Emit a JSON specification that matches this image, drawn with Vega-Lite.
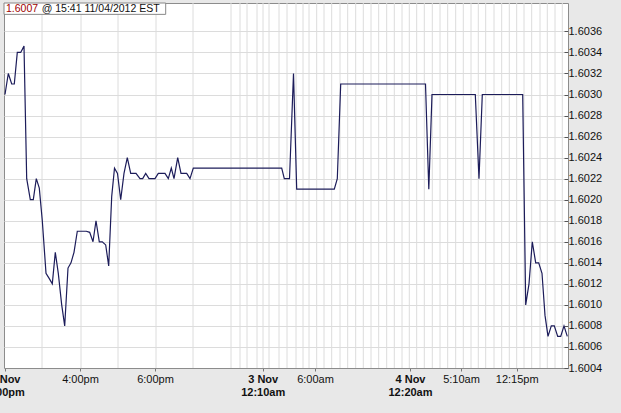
{
  "$schema": "https://vega.github.io/schema/vega-lite/v6.json",
  "width": 564,
  "height": 365,
  "autosize": {"type": "none"},
  "padding": {"left": 4, "top": 3, "right": 53, "bottom": 45},
  "background": "#e8e8e8",
  "config": {
    "view": {"fill": "white", "stroke": "#8c8c8c", "strokeWidth": 1},
    "font": "Liberation Sans"
  },
  "resolve": {"axis": {"x": "independent", "y": "independent"}},
  "datasets": {
    "price": [
      {"pos": 1.0, "v": 1.6030}, {"pos": 4.3, "v": 1.6032}, {"pos": 7.7, "v": 1.6031}, {"pos": 10.3, "v": 1.6031},
      {"pos": 13.3, "v": 1.6034}, {"pos": 16.7, "v": 1.6034}, {"pos": 20.0, "v": 1.60346}, {"pos": 22.7, "v": 1.6022},
      {"pos": 26.3, "v": 1.6020}, {"pos": 29.3, "v": 1.6020}, {"pos": 32.3, "v": 1.6022}, {"pos": 35.3, "v": 1.60211},
      {"pos": 38.3, "v": 1.6018}, {"pos": 42.0, "v": 1.6013}, {"pos": 45.3, "v": 1.60125}, {"pos": 48.3, "v": 1.6012},
      {"pos": 51.3, "v": 1.6015}, {"pos": 54.3, "v": 1.6013}, {"pos": 57.7, "v": 1.6010}, {"pos": 60.7, "v": 1.6008},
      {"pos": 64.0, "v": 1.60135}, {"pos": 67.0, "v": 1.6014}, {"pos": 70.0, "v": 1.6015}, {"pos": 73.3, "v": 1.6017},
      {"pos": 76.3, "v": 1.6017}, {"pos": 82.3, "v": 1.6017}, {"pos": 85.7, "v": 1.60169}, {"pos": 89.0, "v": 1.6016},
      {"pos": 92.0, "v": 1.6018}, {"pos": 95.3, "v": 1.6016}, {"pos": 98.3, "v": 1.6016}, {"pos": 101.7, "v": 1.60157},
      {"pos": 104.7, "v": 1.60137}, {"pos": 107.7, "v": 1.60203}, {"pos": 110.5, "v": 1.6023}, {"pos": 113.5, "v": 1.60225},
      {"pos": 116.7, "v": 1.6020}, {"pos": 120.0, "v": 1.60225}, {"pos": 123.3, "v": 1.6024}, {"pos": 126.7, "v": 1.60225},
      {"pos": 132.0, "v": 1.60225}, {"pos": 136.0, "v": 1.6022}, {"pos": 138.7, "v": 1.6022}, {"pos": 141.7, "v": 1.60225},
      {"pos": 145.0, "v": 1.6022}, {"pos": 151.0, "v": 1.6022}, {"pos": 154.3, "v": 1.60225}, {"pos": 161.0, "v": 1.60225},
      {"pos": 164.3, "v": 1.6022}, {"pos": 167.3, "v": 1.6023}, {"pos": 170.0, "v": 1.6022}, {"pos": 173.7, "v": 1.6024},
      {"pos": 177.0, "v": 1.60225}, {"pos": 182.7, "v": 1.60225}, {"pos": 186.0, "v": 1.6022}, {"pos": 189.3, "v": 1.6023},
      {"pos": 277.7, "v": 1.6023}, {"pos": 280.3, "v": 1.6022}, {"pos": 285.5, "v": 1.6022}, {"pos": 289.5, "v": 1.6032},
      {"pos": 292.7, "v": 1.6021}, {"pos": 330.3, "v": 1.6021}, {"pos": 333.3, "v": 1.6022}, {"pos": 336.7, "v": 1.6031},
      {"pos": 421.5, "v": 1.6031}, {"pos": 424.8, "v": 1.6021}, {"pos": 428.0, "v": 1.6030}, {"pos": 471.3, "v": 1.6030},
      {"pos": 475.0, "v": 1.6022}, {"pos": 478.3, "v": 1.6030}, {"pos": 518.7, "v": 1.6030}, {"pos": 521.7, "v": 1.6010},
      {"pos": 525.0, "v": 1.6012}, {"pos": 528.3, "v": 1.6016}, {"pos": 531.7, "v": 1.6014}, {"pos": 534.7, "v": 1.6014},
      {"pos": 538.0, "v": 1.6013}, {"pos": 541.0, "v": 1.6009}, {"pos": 544.0, "v": 1.6007}, {"pos": 547.3, "v": 1.6008},
      {"pos": 550.3, "v": 1.6008}, {"pos": 553.7, "v": 1.6007}, {"pos": 556.7, "v": 1.6007}, {"pos": 560.0, "v": 1.6008},
      {"pos": 563.3, "v": 1.6007}
    ],
    "grid": [
      {"pos": 38}, {"pos": 77}, {"pos": 114}, {"pos": 152}, {"pos": 189}, {"pos": 227}, {"pos": 236}, {"pos": 243},
      {"pos": 253}, {"pos": 259}, {"pos": 265}, {"pos": 275}, {"pos": 283}, {"pos": 292}, {"pos": 299}, {"pos": 305},
      {"pos": 312.7}, {"pos": 320}, {"pos": 327.7}, {"pos": 336}, {"pos": 343.7}, {"pos": 351.7}, {"pos": 359.3},
      {"pos": 367}, {"pos": 374.7}, {"pos": 382.7}, {"pos": 390.3}, {"pos": 398}, {"pos": 405.3}, {"pos": 412.7},
      {"pos": 420.3}, {"pos": 428.3}, {"pos": 436}, {"pos": 443.7}, {"pos": 451.7}, {"pos": 459.3}, {"pos": 467},
      {"pos": 474.3}, {"pos": 481.7}, {"pos": 490}, {"pos": 497.7}, {"pos": 505.3}, {"pos": 512.7}, {"pos": 520},
      {"pos": 527.7}, {"pos": 536}, {"pos": 543.3}, {"pos": 551}, {"pos": 558.3}
    ]
  },
  "layer": [
    {
      "data": {"name": "grid"},
      "mark": {"type": "rule", "color": "#dcdcdc", "strokeWidth": 1},
      "encoding": {
        "x": {"field": "pos", "type": "quantitative", "scale": {"domain": [0, 564], "nice": false, "zero": false}, "axis": null}
      }
    },
    {
      "data": {"name": "price"},
      "mark": {"type": "line", "color": "#1c1c5a", "strokeWidth": 1.2},
      "encoding": {
        "x": {
          "field": "pos", "type": "quantitative",
          "scale": {"domain": [0, 564], "nice": false, "zero": false},
          "axis": {
            "title": null, "grid": false, "orient": "bottom",
            "values": [1, 76, 151, 258.7, 311, 406, 457, 512.7],
            "labelExpr": "datum.value < 5 ? ['2 Nov', '2:00pm'] : datum.value < 80 ? '4:00pm' : datum.value < 160 ? '6:00pm' : datum.value < 270 ? ['3 Nov', '12:10am'] : datum.value < 350 ? '6:00am' : datum.value < 430 ? ['4 Nov', '12:20am'] : datum.value < 480 ? '5:10am' : '12:15pm'",
            "labelFontWeight": {"condition": {"test": "datum.value < 5 || (datum.value > 200 && datum.value < 270) || (datum.value > 380 && datum.value < 430)", "value": "bold"}, "value": "normal"},
            "labelFont": "Liberation Sans", "labelFontSize": 11, "labelColor": "#111",
            "labelLineHeight": 13, "labelPadding": 2, "labelOverlap": false, "labelFlush": false, "labelBound": false,
            "tickSize": 3, "tickColor": "#777", "domainColor": "#8c8c8c"
          }
        },
        "y": {
          "field": "v", "type": "quantitative",
          "scale": {"domain": [1.6004, 1.60387], "nice": false, "zero": false},
          "axis": {
            "title": null, "orient": "right", "grid": true, "gridColor": "#dcdcdc",
            "values": [1.6004, 1.6006, 1.6008, 1.601, 1.6012, 1.6014, 1.6016, 1.6018, 1.602, 1.6022, 1.6024, 1.6026, 1.6028, 1.603, 1.6032, 1.6034, 1.6036],
            "format": ".4f", "labelFont": "Liberation Sans", "labelFontSize": 11, "labelColor": "#111",
            "tickSize": -4, "tickColor": "#555", "labelPadding": 4, "domain": false, "labelOverlap": false, "labelBound": false
          }
        }
      }
    },
    {
      "data": {"values": [{"label": "box"}]},
      "mark": {"type": "rect", "fill": "white", "stroke": "#888", "strokeWidth": 1},
      "encoding": {
        "x": {"datum": 0, "type": "quantitative", "axis": null},
        "x2": {"datum": 161.7},
        "y": {"datum": 1.60387, "type": "quantitative", "axis": null},
        "y2": {"datum": 1.603762}
      }
    },
    {
      "data": {"values": [{"label": "1.6007"}]},
      "mark": {"type": "text", "align": "left", "baseline": "middle", "font": "Liberation Sans", "fontSize": 10.5, "color": "#a00000"},
      "encoding": {
        "x": {"datum": 2, "type": "quantitative", "axis": null},
        "y": {"datum": 1.603814, "type": "quantitative", "axis": null},
        "text": {"field": "label"}
      }
    },
    {
      "data": {"values": [{"label": "@ 15:41  11/04/2012 EST"}]},
      "mark": {"type": "text", "align": "left", "baseline": "middle", "font": "Liberation Sans", "fontSize": 10.5, "color": "#111"},
      "encoding": {
        "x": {"datum": 37.7, "type": "quantitative", "axis": null},
        "y": {"datum": 1.603814, "type": "quantitative", "axis": null},
        "text": {"field": "label"}
      }
    }
  ]
}
